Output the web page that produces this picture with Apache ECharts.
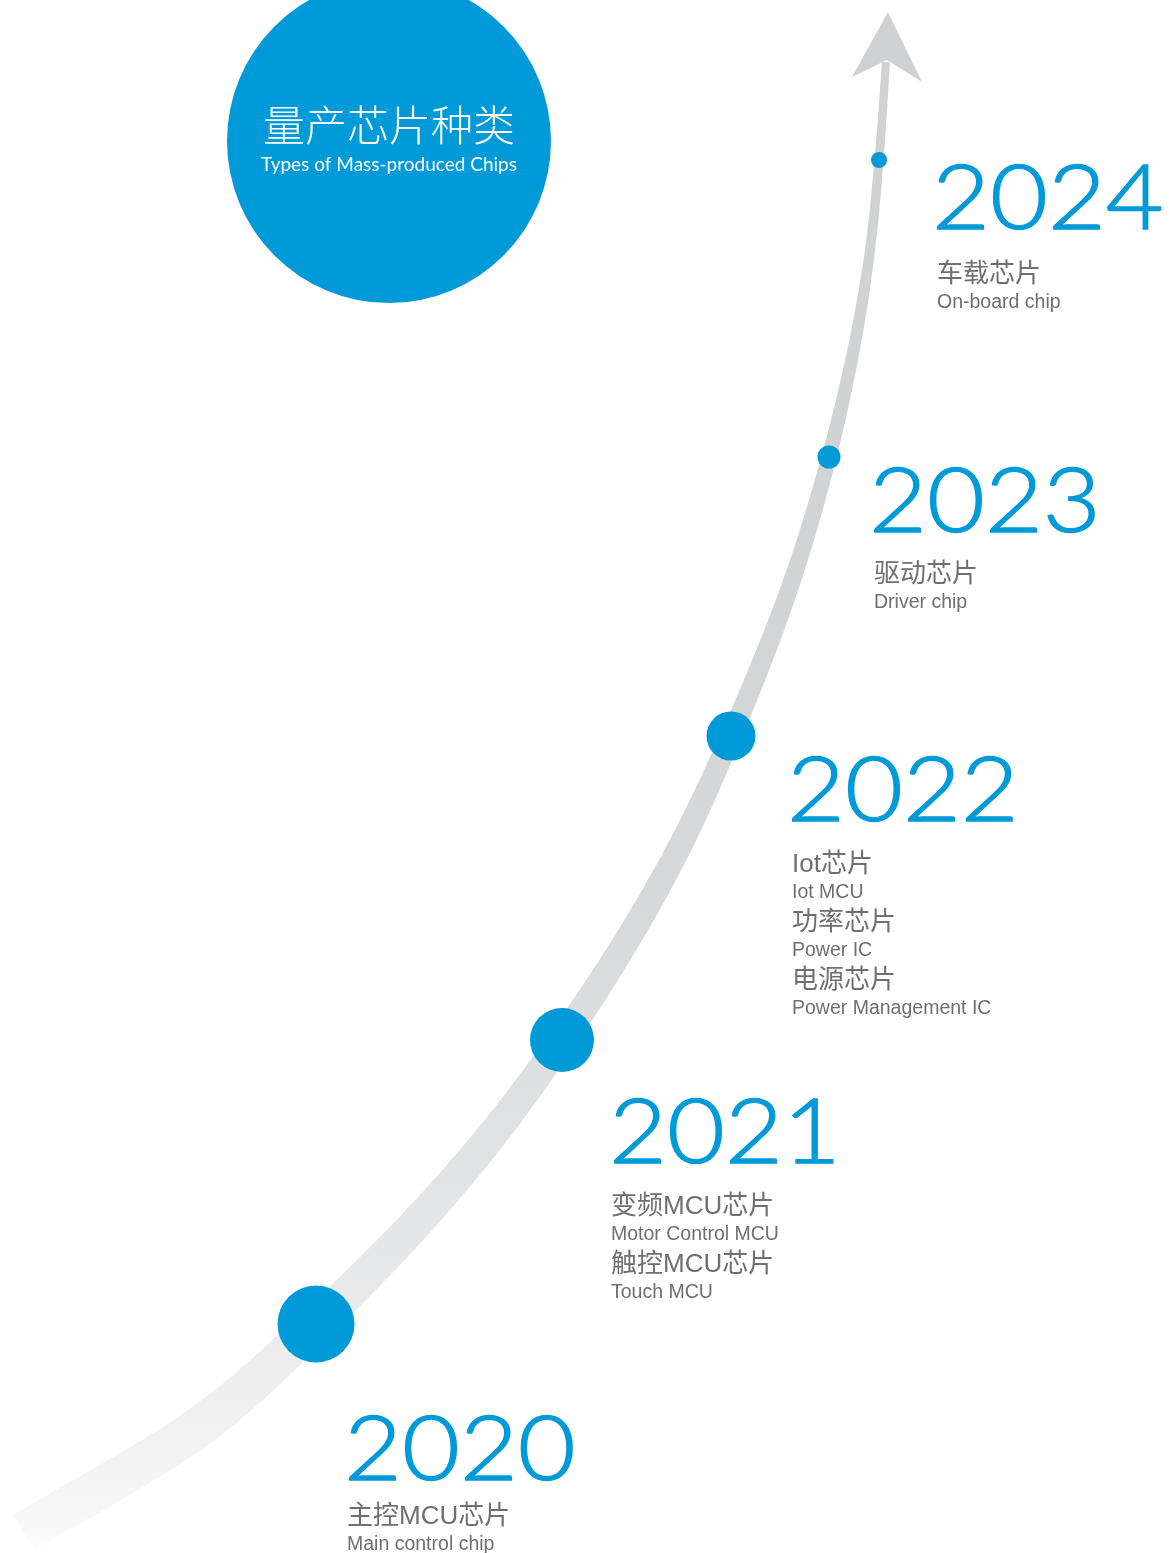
<!DOCTYPE html>
<html>
<head>
<meta charset="utf-8">
<script src="https://cdn.jsdelivr.net/npm/echarts@6/dist/echarts.min.js"></script>
<style>
html,body{margin:0;padding:0;background:#ffffff;}
#chart{width:1170px;height:1553px;}
</style>
</head>
<body>
<div id="chart"></div>
<script>
// ---- data ----
const years = ['2020', '2021', '2022', '2023', '2024'];
const dotX = [316, 562, 731, 829, 879];
const dotY = [1324, 1040, 736, 457, 160];
const dotSize = [77, 64, 49, 23, 16];

const pathX = [24, 200, 316, 480, 562, 678, 731, 799, 829, 870, 879, 886];
const pathY = [1533, 1426, 1324, 1150, 1040, 850, 736, 560, 457, 250, 160, 62];
const pathW = [42, 40, 36, 31, 28, 24, 21, 17, 15, 10, 9, 8];

const arrowX = [888, 922, 887, 852];
const arrowY = [12, 82, 60, 77];

const chipCn = [
  ['主控MCU芯片'],
  ['变频MCU芯片', '触控MCU芯片'],
  ['Iot芯片', '功率芯片', '电源芯片'],
  ['驱动芯片'],
  ['车载芯片']
];
const chipEn = [
  ['Main control chip'],
  ['Motor Control MCU', 'Touch MCU'],
  ['Iot MCU', 'Power IC', 'Power Management IC'],
  ['Driver chip'],
  ['On-board chip']
];

const titleCn = '量产芯片种类';
const titleEn = 'Types of Mass-produced Chips';

// ---- layout ----
const yearX = [344, 609, 787, 869, 932];
const yearBase = [1480, 1163, 821, 532, 229];
const detailX = [347, 611, 792, 874, 937];
const detailY = [1517, 1207, 865, 575, 275];
const titlePos = [389, 141];
const titleDiameter = 324;

const BLUE = '#009ad9';
const GREY = '#6e6f72';

const chart = echarts.init(document.getElementById('chart'), null, {renderer: 'canvas'});

// smooth centreline: x as a function of y (cubic Hermite through the read points)
function centreline() {
  const n = pathX.length;
  const d = [];
  for (let i = 0; i < n - 1; i++) d.push((pathX[i + 1] - pathX[i]) / (pathY[i + 1] - pathY[i]));
  const m = [];
  for (let i = 0; i < n; i++) {
    if (i === 0) m.push(d[0]);
    else if (i === n - 1) m.push(d[n - 2]);
    else {
      const h0 = Math.abs(pathY[i] - pathY[i - 1]), h1 = Math.abs(pathY[i + 1] - pathY[i]);
      m.push((h1 * d[i - 1] + h0 * d[i]) / (h0 + h1));
    }
  }
  const out = [];
  for (let i = 0; i < n - 1; i++) {
    const h = pathY[i + 1] - pathY[i];
    const steps = Math.max(4, Math.ceil(Math.abs(h) / 3));
    for (let k = 0; k < steps; k++) {
      const t = k / steps, t2 = t * t, t3 = t2 * t;
      const x = (2 * t3 - 3 * t2 + 1) * pathX[i] + (t3 - 2 * t2 + t) * h * m[i]
              + (-2 * t3 + 3 * t2) * pathX[i + 1] + (t3 - t2) * h * m[i + 1];
      const y = pathY[i] + h * t;
      const w = pathW[i] + (pathW[i + 1] - pathW[i]) * t;
      out.push([x, y, w]);
    }
  }
  out.push([pathX[n - 1], pathY[n - 1], pathW[n - 1]]);
  return out;
}

function bandRender(params, api) {
  if (params.dataIndex !== 0) return;
  const s = centreline();
  const pts = s.map(p => api.coord([p[0], p[1]]));
  const left = [], right = [];
  for (let k = 0; k < pts.length; k++) {
    const a = pts[Math.max(k - 1, 0)], b = pts[Math.min(k + 1, pts.length - 1)];
    const tx = b[0] - a[0], ty = b[1] - a[1];
    const len = Math.sqrt(tx * tx + ty * ty) || 1;
    const nx = -ty / len, ny = tx / len;
    const h = s[k][2] / 2;
    left.push([pts[k][0] + nx * h, pts[k][1] + ny * h]);
    right.push([pts[k][0] - nx * h, pts[k][1] - ny * h]);
  }
  const poly = left.concat(right.reverse());
  const grad = new echarts.graphic.LinearGradient(0, 0, 0, 1553, [
    {offset: 0, color: '#d0d1d3'},
    {offset: 0.38, color: '#d2d3d5'},
    {offset: 0.58, color: '#d7d8da'},
    {offset: 0.77, color: '#e3e4e5'},
    {offset: 0.91, color: '#f0f0f1'},
    {offset: 0.97, color: '#f6f6f7'},
    {offset: 1, color: '#fdfdfd'}
  ], true);
  const arrowPts = arrowX.map((x, i) => api.coord([x, arrowY[i]]));
  return {
    type: 'group',
    children: [
      {type: 'polygon', shape: {points: poly}, style: {fill: grad}},
      {type: 'polygon', shape: {points: arrowPts}, style: {fill: '#d0d1d3'}}
    ]
  };
}

function txt(x, y, text, font, fill, align, scaleX, strokeW) {
  const style = {text: text, font: font, fill: fill, align: align || 'left', verticalAlign: 'middle',
                 textAlign: align || 'left', textVerticalAlign: 'middle'};
  if (strokeW) { style.stroke = fill; style.lineWidth = strokeW; }
  return {type: 'text', x: x, y: y, scaleX: scaleX || 1, style: style};
}

function labelRender(params, api) {
  const i = params.dataIndex;
  const p = api.coord([api.value(0), api.value(1)]);
  const d = api.coord([detailX[i], detailY[i]]);
  const children = [];
  children.push(txt(p[0], p[1] - 29, years[i], '300 90px Lato', BLUE, 'left', 1.11, 1.4));
  let y = d[1];
  chipCn[i].forEach((cn, j) => {
    children.push(txt(d[0], y, cn, '400 26px "Liberation Sans", "Noto Sans CJK SC"', GREY, 'left'));
    y += 28;
    children.push(txt(d[0], y, chipEn[i][j], '400 19.5px "Liberation Sans"', GREY, 'left'));
    y += 30;
  });
  return {type: 'group', children: children};
}

function titleRender(params, api) {
  const p = api.coord([api.value(0), api.value(1)]);
  return {
    type: 'group',
    children: [
      txt(p[0], p[1] - 16, titleCn, '300 42px "Noto Sans CJK SC"', '#ffffff', 'center'),
      txt(p[0], p[1] + 24, titleEn, '400 19px Lato', '#ffffff', 'center')
    ]
  };
}

chart.setOption({
  animation: false,
  backgroundColor: '#ffffff',
  grid: {left: 0, right: 0, top: 0, bottom: 0, containLabel: false},
  xAxis: {type: 'value', min: 0, max: 1170, show: false},
  yAxis: {type: 'value', min: 0, max: 1553, inverse: true, show: false},
  series: [
    {
      type: 'custom', z: 1, clip: false,
      renderItem: bandRender,
      data: [[0, 0]]
    },
    {
      type: 'scatter', z: 2, clip: false,
      symbol: 'circle',
      symbolSize: titleDiameter,
      itemStyle: {color: BLUE, opacity: 1},
      data: [titlePos],
      silent: true
    },
    {
      type: 'scatter', z: 3, clip: false,
      symbol: 'circle',
      symbolSize: (v, p) => dotSize[p.dataIndex],
      itemStyle: {color: BLUE, opacity: 1},
      data: dotX.map((x, i) => [x, dotY[i]]),
      silent: true
    },
    {
      type: 'custom', z: 4, clip: false,
      renderItem: labelRender,
      data: yearX.map((x, i) => [x, yearBase[i]])
    },
    {
      type: 'custom', z: 5, clip: false,
      renderItem: titleRender,
      data: [titlePos]
    }
  ]
});
</script>
</body>
</html>
